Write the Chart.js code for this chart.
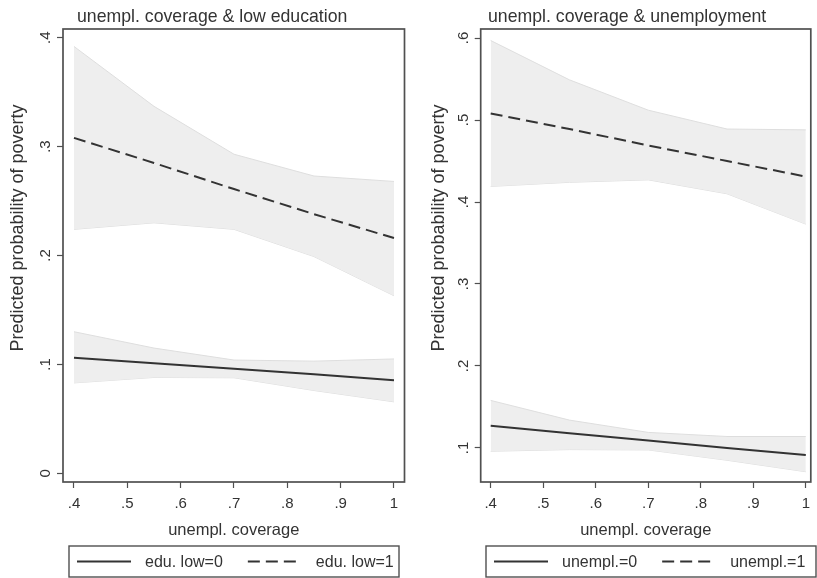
<!DOCTYPE html>
<html>
<head>
<meta charset="utf-8">
<script src="https://cdn.jsdelivr.net/npm/chart.js@4.4.1/dist/chart.umd.min.js"></script>
<style>
  body { margin: 0; background: #fff; }
  #wrap { position: relative; width: 817px; height: 578px; }
  canvas { position: absolute; top: 0; }
</style>
</head>
<body>
<div id="wrap">
  <canvas id="leftChart" width="408" height="578" style="left:0"></canvas>
  <canvas id="rightChart" width="409" height="578" style="left:408px"></canvas>
</div>
<script>
// coverage values where the predictions were computed
const coverage = [0.4, 0.55, 0.7, 0.85, 1.0];
const xTicks = [0.4, 0.5, 0.6, 0.7, 0.8, 0.9, 1];

// left panel: low education
const eduLow0 = [0.106, 0.101, 0.096, 0.091, 0.0855];
const eduLow0Hi = [0.130, 0.115, 0.104, 0.103, 0.105];
const eduLow0Lo = [0.083, 0.088, 0.0877, 0.076, 0.0656];
const eduLow1 = [0.308, 0.285, 0.261, 0.238, 0.216];
const eduLow1Hi = [0.392, 0.337, 0.293, 0.273, 0.268];
const eduLow1Lo = [0.224, 0.230, 0.224, 0.199, 0.163];
const yTicksLeft = [0, 0.1, 0.2, 0.3, 0.4];

// right panel: unemployment
const unempl0 = [0.127, 0.118, 0.109, 0.100, 0.0915];
const unempl0Hi = [0.158, 0.134, 0.119, 0.114, 0.114];
const unempl0Lo = [0.096, 0.098, 0.0976, 0.085, 0.071];
const unempl1 = [0.508, 0.489, 0.469, 0.450, 0.431];
const unempl1Hi = [0.597, 0.549, 0.512, 0.489, 0.488];
const unempl1Lo = [0.419, 0.424, 0.427, 0.410, 0.373];
const yTicksRight = [0.1, 0.2, 0.3, 0.4, 0.5, 0.6];

const FONT = "'Liberation Sans', Arial, sans-serif";
const TEXT = '#333';
const AXIS = '#505050';
const DASH = [12, 6];

Chart.defaults.font.family = FONT;
Chart.defaults.color = TEXT;

// stata style number: .4 instead of 0.4
function fmt(v) {
    let s = String(Number(v.toFixed(2)));
    return s.startsWith('0.') ? s.slice(1) : s;
}

function pts(ys) {
    return coverage.map((x, i) => ({ x: x, y: ys[i] }));
}

// frame, rotated y labels, titles and the boxed legend
const panelExtras = {
    id: 'panelExtras',
    afterDraw(chart, args, opts) {
        const ctx = chart.ctx;
        const area = chart.chartArea;
        const yScale = chart.scales.y;
        ctx.save();

        // plot frame
        ctx.strokeStyle = AXIS;
        ctx.lineWidth = 1.7;
        ctx.strokeRect(area.left, area.top, area.right - area.left, area.bottom - area.top);

        // y tick labels, turned like the axis title
        ctx.fillStyle = TEXT;
        ctx.font = '15px ' + FONT;
        ctx.textAlign = 'center';
        ctx.textBaseline = 'middle';
        yScale.ticks.forEach(t => {
            ctx.save();
            ctx.translate(area.left - 17, yScale.getPixelForValue(t.value));
            ctx.rotate(-Math.PI / 2);
            ctx.fillText(fmt(t.value), 0, 0);
            ctx.restore();
        });

        // y axis title
        ctx.save();
        ctx.font = '18px ' + FONT;
        ctx.translate(area.left - opts.yTitleGap, 228);
        ctx.rotate(-Math.PI / 2);
        ctx.fillText('Predicted probability of poverty', 0, 0);
        ctx.restore();

        // panel title
        ctx.font = '17.7px ' + FONT;
        ctx.textAlign = 'left';
        ctx.textBaseline = 'alphabetic';
        ctx.fillText(opts.title, opts.titleX, 22);

        // legend in a box
        const box = opts.legendBox;
        ctx.strokeStyle = AXIS;
        ctx.lineWidth = 1.4;
        ctx.strokeRect(box[0], box[1], box[2], box[3]);
        const midY = box[1] + box[3] / 2;
        ctx.font = '16px ' + FONT;
        ctx.textBaseline = 'middle';
        let x = box[0] + 8;
        chart.data.datasets.slice(0, 2).forEach((ds, i) => {
            ctx.strokeStyle = ds.borderColor;
            ctx.lineWidth = ds.borderWidth;
            ctx.setLineDash(ds.borderDash || []);
            ctx.beginPath();
            ctx.moveTo(x, midY);
            ctx.lineTo(x + 54, midY);
            ctx.stroke();
            ctx.setLineDash([]);
            x += 54 + 14;
            ctx.fillText(ds.label, x, midY + 1);
            x += ctx.measureText(ds.label).width + 25;
        });
        ctx.restore();
    }
};

function makePanel(id, cfg) {
    const band = { pointRadius: 0, borderWidth: 1, borderColor: '#dedede', backgroundColor: '#eeeeee', tension: 0 };
    return new Chart(document.getElementById(id), {
        type: 'line',
        data: {
            datasets: [
                { label: cfg.labels[0], data: pts(cfg.line0), borderColor: '#333', borderWidth: 2, pointRadius: 0, fill: false },
                { label: cfg.labels[1], data: pts(cfg.line1), borderColor: '#333', borderWidth: 2, borderDash: DASH, pointRadius: 0, fill: false },
                Object.assign({ label: 'ci0 hi', data: pts(cfg.hi0), fill: '+1' }, band),
                Object.assign({ label: 'ci0 lo', data: pts(cfg.lo0), fill: false }, band),
                Object.assign({ label: 'ci1 hi', data: pts(cfg.hi1), fill: '+1' }, band),
                Object.assign({ label: 'ci1 lo', data: pts(cfg.lo1), fill: false }, band)
            ]
        },
        options: {
            responsive: false,
            animation: false,
            layout: { padding: { top: 29, right: cfg.rightPad, bottom: 0, left: 0 } },
            plugins: {
                legend: { display: false },
                tooltip: { enabled: false },
                panelExtras: cfg.extras
            },
            scales: {
                x: {
                    type: 'linear',
                    min: cfg.xMin,
                    max: cfg.xMax,
                    afterBuildTicks: s => { s.ticks = xTicks.map(v => ({ value: v })); },
                    afterFit: s => { s.height = 96; },
                    ticks: { callback: v => fmt(v), font: { size: 15 }, padding: 7, autoSkip: false, maxRotation: 0 },
                    grid: { drawOnChartArea: false, drawTicks: true, tickLength: 6, tickColor: AXIS, tickWidth: 1.2 },
                    border: { display: false },
                    title: { display: true, text: 'unempl. coverage', font: { size: 16.5 }, padding: { top: 0, bottom: 38 } }
                },
                y: {
                    type: 'linear',
                    min: cfg.yMin,
                    max: cfg.yMax,
                    afterBuildTicks: s => { s.ticks = cfg.yTicks.map(v => ({ value: v })); },
                    afterFit: s => { s.width = cfg.leftW; },
                    ticks: { display: false },
                    grid: { drawOnChartArea: false, drawTicks: true, tickLength: 6, tickColor: AXIS, tickWidth: 1.2 },
                    border: { display: false }
                }
            }
        },
        plugins: [panelExtras]
    });
}

makePanel('leftChart', {
    labels: ['edu. low=0', 'edu. low=1'],
    line0: eduLow0, hi0: eduLow0Hi, lo0: eduLow0Lo,
    line1: eduLow1, hi1: eduLow1Hi, lo1: eduLow1Lo,
    yTicks: yTicksLeft, yMin: -0.008, yMax: 0.408,
    xMin: 0.3794, xMax: 1.0197,
    leftW: 63, rightPad: 3.5,
    extras: { title: 'unempl. coverage & low education', titleX: 77, yTitleGap: 44.5, legendBox: [69, 546, 330, 31] }
});

makePanel('rightChart', {
    labels: ['unempl.=0', 'unempl.=1'],
    line0: unempl0, hi0: unempl0Hi, lo0: unempl0Lo,
    line1: unempl1, hi1: unempl1Hi, lo1: unempl1Lo,
    yTicks: yTicksRight, yMin: 0.0585, yMax: 0.611,
    xMin: 0.381, xMax: 1.0095,
    leftW: 72.7, rightPad: 1.3,
    extras: { title: 'unempl. coverage & unemployment', titleX: 80, yTitleGap: 42, legendBox: [78, 546, 330, 31] }
});
</script>
</body>
</html>
